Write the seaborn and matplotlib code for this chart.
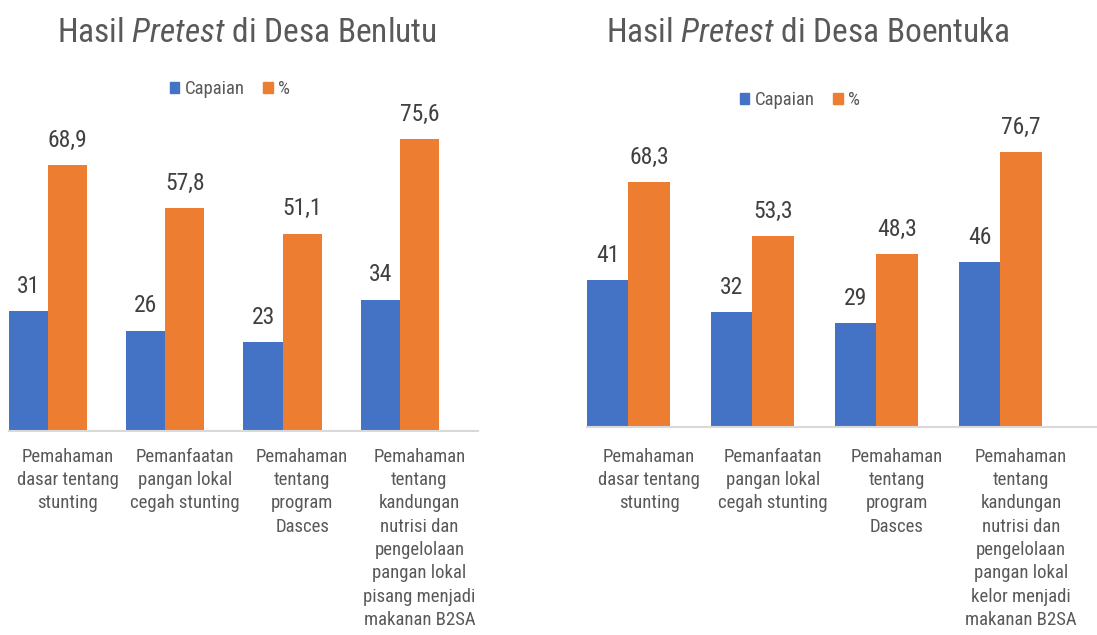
import pandas as pd
import matplotlib
matplotlib.use("Agg")
import matplotlib.pyplot as plt
import seaborn as sns
from matplotlib import font_manager
from matplotlib.patches import Patch

# data
kategori_benlutu = [
    "Pemahaman\ndasar tentang\nstunting",
    "Pemanfaatan\npangan lokal\ncegah stunting",
    "Pemahaman\ntentang\nprogram\nDasces",
    "Pemahaman\ntentang\nkandungan\nnutrisi dan\npengelolaan\npangan lokal\npisang menjadi\nmakanan B2SA",
]
capaian_benlutu = [31, 26, 23, 34]
persen_benlutu = [68.9, 57.8, 51.1, 75.6]

kategori_boentuka = [
    "Pemahaman\ndasar tentang\nstunting",
    "Pemanfaatan\npangan lokal\ncegah stunting",
    "Pemahaman\ntentang\nprogram\nDasces",
    "Pemahaman\ntentang\nkandungan\nnutrisi dan\npengelolaan\npangan lokal\nkelor menjadi\nmakanan B2SA",
]
capaian_boentuka = [41, 32, 29, 46]
persen_boentuka = [68.3, 53.3, 48.3, 76.7]

judul_benlutu = r"Hasil $\mathit{Pretest}$ di Desa Benlutu"
judul_boentuka = r"Hasil $\mathit{Pretest}$ di Desa Boentuka"

BIRU = "#4472C4"
ORANYE = "#ED7D31"
ABU = "#595959"

# font: cari versi narrow kalau ada
nama_font = {f.name for f in font_manager.fontManager.ttflist}
FONT = "Liberation Sans"
for kandidat in ["Liberation Sans Narrow", "Roboto Condensed", "Open Sans Condensed"]:
    if kandidat in nama_font:
        FONT = kandidat
        break

sns.set_style("white")
plt.rcParams['font.family'] = [FONT, 'DejaVu Sans']
plt.rcParams['mathtext.fontset'] = 'custom'
plt.rcParams['mathtext.rm'] = FONT
plt.rcParams['mathtext.it'] = FONT + ':italic'


def buat_df(kategori, capaian, persen):
    rows = []
    for k, c, p in zip(kategori, capaian, persen):
        rows.append((k, "Capaian", c))
        rows.append((k, "%", p))
        rows.append((k, "kosong", 0))  # seri kosong (slot ketiga)
    return pd.DataFrame(rows, columns=["kategori", "seri", "nilai"])


def gambar_panel(ax, kategori, capaian, persen, pad_label, pakai_tick, x_kanan):
    df = buat_df(kategori, capaian, persen)
    sns.barplot(data=df, x="kategori", y="nilai", hue="seri",
                hue_order=["Capaian", "%", "kosong"],
                palette=[BIRU, ORANYE, "white"], saturation=1, width=1,
                linewidth=0, errorbar=None, legend=False, ax=ax)
    ax.set_ylim(0, 80)
    ax.set_xlim(-0.5, x_kanan)
    ax.bar_label(ax.containers[0], labels=[str(v) for v in capaian],
                 padding=9.5, fontsize=17, color="#404040")
    ax.bar_label(ax.containers[1],
                 labels=[f"{v:.1f}".replace(".", ",") for v in persen],
                 padding=9.5, fontsize=17, color="#404040")
    for s in ["top", "right", "left"]:
        ax.spines[s].set_visible(False)
    ax.spines["bottom"].set_color("#D9D9D9")
    ax.spines["bottom"].set_linewidth(1.5)
    ax.set_yticks([])
    ax.set_xlabel("")
    ax.set_ylabel("")
    ax.tick_params(axis="x", which="major", length=0, pad=pad_label,
                   labelsize=13.5, labelcolor=ABU)
    for t in ax.get_xticklabels():
        t.set_linespacing(1.38)
    if pakai_tick:
        ax.set_xticks([-0.5, 0.5, 1.5, 2.5, 3.5], minor=True)
        ax.tick_params(axis="x", which="minor", length=6, width=1.5,
                       color="#D9D9D9")


fig = plt.figure(figsize=(10.97, 6.35), dpi=100)
ax1 = fig.add_axes([0.0082, 0.3213, 0.4275, 0.4866])
ax2 = fig.add_axes([0.5351, 0.3276, 0.4649, 0.4517])

gambar_panel(ax1, kategori_benlutu, capaian_benlutu, persen_benlutu, 12, True, 3.5)
gambar_panel(ax2, kategori_boentuka, capaian_boentuka, persen_boentuka, 15, False, 3.613)

fig.text(247 / 1097, 1 - 33 / 635, judul_benlutu, ha="center", va="center",
         fontsize=24, color=ABU)
fig.text(808 / 1097, 1 - 33 / 635, judul_boentuka, ha="center", va="center",
         fontsize=24, color=ABU)

handles = [Patch(color=BIRU), Patch(color=ORANYE)]
for x, y in [(230 / 1097, 1 - 89 / 635), (800 / 1097, 1 - 100 / 635)]:
    fig.legend(handles, ["Capaian", "%"], loc="center", bbox_to_anchor=(x, y),
               ncol=2, frameon=False, fontsize=13.5, labelcolor=ABU,
               handlelength=0.5, handleheight=0.5, handletextpad=0.3,
               columnspacing=1.0)

fig.savefig("out.png", dpi=100)
